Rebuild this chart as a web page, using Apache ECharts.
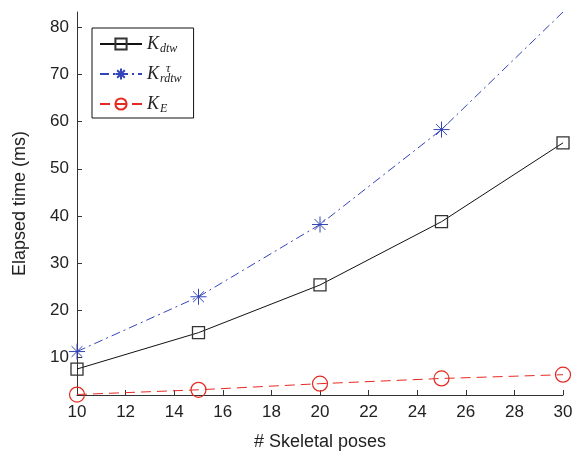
<!DOCTYPE html>
<html>
<head>
<meta charset="utf-8">
<script src="https://cdn.jsdelivr.net/npm/echarts@6/dist/echarts.min.js"></script>
<style>
  html, body { margin: 0; padding: 0; background: #fff; }
  #chart { width: 576px; height: 456px; }
</style>
</head>
<body>
<div id="chart"></div>
<script>
// Number of skeletal poses per sequence
const poses = [10, 15, 20, 25, 30];
// Elapsed time (ms) for each kernel
const kDtw = [7.6, 15.3, 25.4, 38.8, 55.5];
const kRdtw = [11.3, 22.9, 38.2, 58.3, 83.2];
const kE = [2.2, 3.2, 4.5, 5.6, 6.4];
// Axis ticks
const xTicks = [10, 12, 14, 16, 18, 20, 22, 24, 26, 28, 30];
const yTicks = [10, 20, 30, 40, 50, 60, 70, 80];

const ASTERISK = 'path://M0 5 L10 5 M5 0 L5 10 M1.6 1.6 L8.4 8.4 M8.4 1.6 L1.6 8.4';

const pairs = (ys, hideLast) => poses.map((x, i) => {
  const item = { value: [x, ys[i]] };
  if (hideLast && i === poses.length - 1) item.symbol = 'none';
  return item;
});

const textColor = '#222';
const axisColor = '#333';
const labelFont = 'Liberation Sans, Arial, Helvetica, sans-serif';
const mathFont = 'Liberation Serif, DejaVu Serif, serif';

const chart = echarts.init(document.getElementById('chart'));
chart.setOption({
  animation: false,
  backgroundColor: '#fff',
  grid: { left: 77, right: 13, top: 12, bottom: 60, containLabel: false },
  xAxis: {
    type: 'value', min: 10, max: 30, interval: 2,
    name: '# Skeletal poses', nameLocation: 'middle', nameGap: 38,
    nameTextStyle: { fontSize: 18, color: textColor, fontFamily: labelFont },
    axisLine: { show: true, lineStyle: { color: axisColor, width: 1 } },
    axisTick: { show: true, inside: true, length: 5, lineStyle: { color: axisColor }, customValues: xTicks },
    axisLabel: { fontSize: 17, color: textColor, fontFamily: labelFont, margin: 9, customValues: xTicks },
    splitLine: { show: false }
  },
  yAxis: {
    type: 'value', min: 2.1, max: 83.2,
    name: 'Elapsed time (ms)', nameLocation: 'middle', nameGap: 48,
    nameTextStyle: { fontSize: 18, color: textColor, fontFamily: labelFont },
    axisLine: { show: true, lineStyle: { color: axisColor, width: 1 } },
    axisTick: { show: true, inside: true, length: 5, lineStyle: { color: axisColor }, customValues: yTicks },
    axisLabel: { fontSize: 17, color: textColor, fontFamily: labelFont, margin: 8, customValues: yTicks },
    splitLine: { show: false }
  },
  legend: {
    orient: 'vertical', left: 92, top: 28,
    backgroundColor: '#fff', borderColor: '#111', borderWidth: 1,
    padding: [7, 12, 3, 7],
    itemWidth: 42, itemHeight: 14, itemGap: 10,
    data: ['Kdtw', 'Krdtw', 'KE'],
    formatter: function (name) {
      if (name === 'Kdtw') return '{k|K}{s|dtw}';
      if (name === 'Krdtw') return '{k|K}{s|rdtw}';
      return '{k|K}{s|E}';
    },
    textStyle: {
      color: '#222', padding: [0, 0, 0, 0],
      rich: {
        k: { fontSize: 18, fontStyle: 'italic', fontFamily: mathFont, color: '#222', lineHeight: 18, verticalAlign: 'middle' },
        s: { fontSize: 12, fontStyle: 'italic', fontFamily: mathFont, color: '#222', padding: [10, 0, 0, 1], verticalAlign: 'middle' }
      }
    }
  },
  graphic: [
    { type: 'text', left: 166, top: 63, z: 100, style: { text: 'τ', fontSize: 12, fontStyle: 'italic', fontFamily: mathFont, fill: '#222' } }
  ],
  series: [
    {
      name: 'Kdtw', type: 'line', data: pairs(kDtw),
      symbol: 'rect', symbolSize: 12,
      lineStyle: { color: '#111', width: 1, type: 'solid' },
      itemStyle: { color: 'none', borderColor: '#333', borderWidth: 1.3 },
      z: 3
    },
    {
      name: 'Krdtw', type: 'line', data: pairs(kRdtw, true),
      symbol: ASTERISK, symbolSize: 16,
      lineStyle: { color: '#3344b8', width: 1, type: [9, 4, 2, 4] },
      itemStyle: { color: 'none', borderColor: '#3344b8', borderWidth: 1 },
      z: 2
    },
    {
      name: 'KE', type: 'line', data: pairs(kE),
      symbol: 'circle', symbolSize: 15,
      lineStyle: { color: '#e52a22', width: 1, type: [10, 6] },
      itemStyle: { color: 'none', borderColor: '#e52a22', borderWidth: 1.2 },
      z: 4
    }
  ]
});
</script>
</body>
</html>
